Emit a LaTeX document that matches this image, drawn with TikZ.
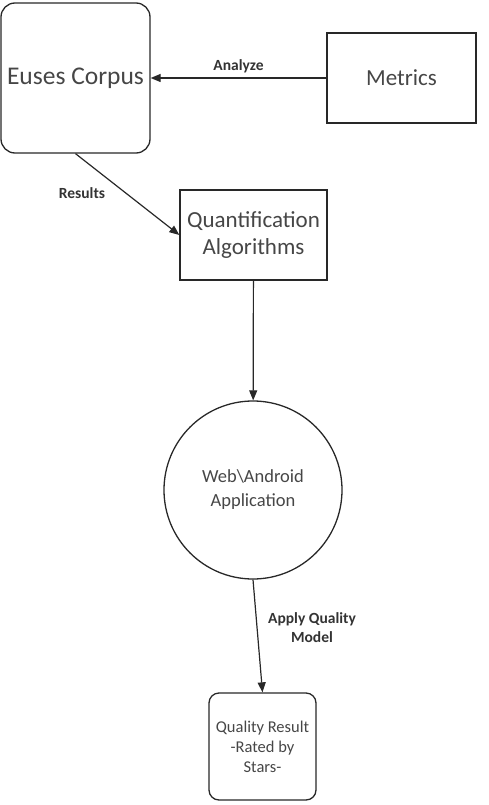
\documentclass[tikz,border=0pt]{standalone}
\usepackage{fontspec}
\setmainfont{Carlito}
\usetikzlibrary{arrows.meta, positioning}
\definecolor{boxtext}{RGB}{70, 70, 70}
\definecolor{linecolor}{RGB}{40, 40, 40}

\begin{document}
\begin{tikzpicture}[x=1pt, y=-1pt,
  box/.style={draw=linecolor, line width=1.3pt, text=boxtext, align=center},
  lbl/.style={font=\bfseries\fontsize{15.5}{19}\selectfont, text=black!80, align=center},
  arr/.style={draw=linecolor, line width=1.2pt, -{Triangle[length=10pt, width=8pt]}}]
\useasboundingbox (0,0) rectangle (489,805);

\node[box, rounded corners=14pt, minimum width=149pt, minimum height=150pt, font=\fontsize{25.5}{30}\selectfont] (corpus) at (75.5,78) {Euses Corpus};
\node[box, minimum width=149pt, minimum height=90pt, font=\fontsize{23}{27}\selectfont] (metrics) at (401.5,78) {Metrics};
\node[box, minimum width=147pt, minimum height=90pt, font=\fontsize{23}{27}\selectfont] (quant) at (253.5,235) {Quantification\\Algorithms};
\node[box, circle, minimum size=178pt, inner sep=0pt, font=\fontsize{18.5}{24}\selectfont] (app) at (253,490) {Web\textbackslash Android\\Application};
\node[box, rounded corners=10pt, minimum width=107pt, minimum height=107pt, font=\fontsize{16.5}{20}\selectfont] (result) at (262.5,746.5) {Quality Result\\-Rated by\\Stars-};

\draw[arr] (metrics) -- (corpus) node[lbl, midway, above, yshift=1pt] {Analyze};
\draw[arr] (corpus.south) -- (quant.west);
\node[lbl] (reslbl) at (82,193) {Results};
\draw[arr] (quant) -- (app);
\draw[arr] (app.south) -- (result.north);
\node[lbl] (applbl) at (312,628) {Apply Quality\\Model};
\end{tikzpicture}
\end{document}
